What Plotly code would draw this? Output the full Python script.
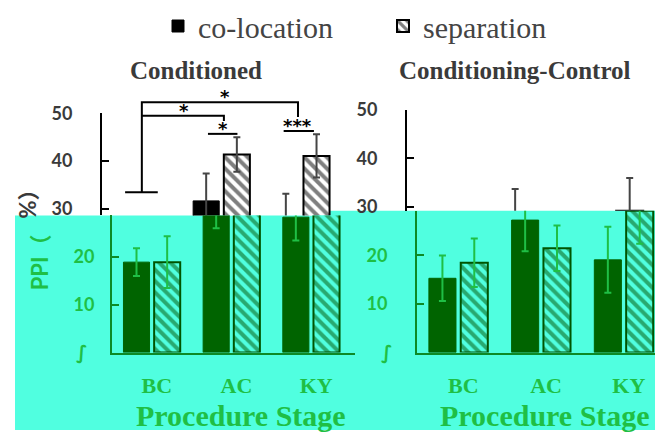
import plotly.graph_objects as go

# ---------------- data ----------------
stages = ["BC", "AC", "KY"]

cond_coloc = [18.9, 31.7, 28.3]
cond_coloc_err = [2.9, 5.7, 4.9]
cond_sep = [18.9, 41.4, 41.1]
cond_sep_err = [5.4, 3.6, 4.5]

ctrl_coloc = [15.3, 27.3, 19.1]
ctrl_coloc_err = [4.7, 6.4, 6.8]
ctrl_sep = [18.5, 21.5, 29.2]
ctrl_sep_err = [5.0, 4.7, 6.8]

y_tickvals = [10, 20, 30, 40, 50]
y_ticktext = ["10", "20", "30", "40", "50"]
axis_break = "∫"  # squiggle drawn where the zero label would sit

# significance brackets on the Conditioned panel, as (stage index, PPI %) points
sig_paths = [
    [(-0.21, 33.5), (0.2, 33.5)],
    [(0.0, 33.5), (0.0, 52.3), (1.96, 52.3), (1.96, 49.2)],
    [(0.0, 49.5), (1.03, 49.5), (1.03, 48.4)],
    [(0.83, 45.7), (1.2, 45.7)],
    [(1.78, 46.3), (2.16, 46.3)],
]
sig_labels = [("*", 1.04, 52.3), ("*", 0.53, 49.5), ("*", 1.02, 45.7), ("***", 1.96, 46.3)]

# ---------------- layout geometry (pixels) ----------------
W, H = 668, 437
SHIFT = 10  # lower band is drawn offset to the right

CYAN = "#50ffe0"
DARK_GREEN = "#006400"
HATCH_GREEN = "#005400"
TEXT_GREEN = "#1fbf45"
LINE_GREEN = "#0d8a26"
GREY_TEXT = "#3a3a3a"

SERIF = "Liberation Serif, Times New Roman, serif"
SANS = "Lato, Noto Sans CJK SC, DejaVu Sans"

# lab_std: tick-label standoff of the lower value axis
panels = {
    "cond": dict(x0=102, x1=345, xmax=2.55, zero=355.5, top=103.5, cut=211, lab_std=12),
    "ctrl": dict(x0=407, x1=645.2, xmax=2.38, zero=355.4, top=100, cut=206, lab_std=24),
}


def px_x(p):
    return p / W


def px_y(p):
    return 1 - p / H


for p in panels.values():
    p["ppu"] = (p["zero"] - p["top"]) / 50.0
    p["ycut"] = (p["zero"] - p["cut"]) / p["ppu"]


def data_to_paper(panel, xv, yv):
    p = panels[panel]
    xpx = p["x0"] + (xv + 0.5) * (p["x1"] - p["x0"]) / (p["xmax"] + 0.5)
    ypx = p["zero"] - yv * p["ppu"]
    return px_x(xpx), px_y(ypx)


fig = go.Figure()


def add_pair(xa, ya, coloc, coloc_err, sep, sep_err, lower, legend):
    fill = DARK_GREEN if lower else "#000000"
    edge = HATCH_GREEN if lower else "#000000"
    bg = CYAN if lower else "#ffffff"
    err_col = TEXT_GREEN if lower else "#454545"
    fig.add_trace(go.Bar(
        x=stages, y=coloc, name="co-location", xaxis=xa, yaxis=ya,
        marker=dict(color=fill, line=dict(color=fill, width=1)),
        error_y=dict(type="data", array=coloc_err, color=err_col, thickness=2, width=3.5),
        showlegend=legend, legendrank=1,
    ))
    fig.add_trace(go.Bar(
        x=stages, y=sep, name="separation", xaxis=xa, yaxis=ya,
        marker=dict(color=bg, line=dict(color=edge, width=2),
                    pattern=dict(shape="\\", fgcolor=edge, bgcolor=bg, size=8, solidity=0.5)),
        error_y=dict(type="data", array=sep_err, color=err_col, thickness=2, width=3.5),
        showlegend=legend, legendrank=2,
    ))


# upper (white) band
add_pair("x", "y", cond_coloc, cond_coloc_err, cond_sep, cond_sep_err, False, True)
add_pair("x2", "y2", ctrl_coloc, ctrl_coloc_err, ctrl_sep, ctrl_sep_err, False, False)
# lower (cyan) band
add_pair("x3", "y3", cond_coloc, cond_coloc_err, cond_sep, cond_sep_err, True, False)
add_pair("x4", "y4", ctrl_coloc, ctrl_coloc_err, ctrl_sep, ctrl_sep_err, True, False)

axes = {}
for key, (xa, ya, xl, yl) in {"cond": ("xaxis", "yaxis", "xaxis3", "yaxis3"),
                             "ctrl": ("xaxis2", "yaxis2", "xaxis4", "yaxis4")}.items():
    p = panels[key]
    xrange = [-0.5, p["xmax"]]
    # upper band
    axes[xa] = dict(domain=[px_x(p["x0"]), px_x(p["x1"])], range=xrange, visible=False,
                    anchor=ya.replace("axis", ""))
    axes[ya] = dict(domain=[px_y(p["cut"]), px_y(p["top"])], range=[p["ycut"], 50],
                    anchor=xa.replace("axis", ""),
                    showline=True, linecolor="#000000", linewidth=2,
                    ticks="inside", ticklen=7, tickwidth=2, tickcolor="#000000",
                    tickvals=y_tickvals, ticktext=y_ticktext, showgrid=False, zeroline=False,
                    tickfont=dict(family=SANS, size=18, color=GREY_TEXT, weight="bold"),
                    ticklabelstandoff=24)
    # lower band
    axes[xl] = dict(domain=[px_x(p["x0"] + SHIFT), px_x(p["x1"] + SHIFT)], range=xrange,
                    anchor=yl.replace("axis", ""),
                    showline=True, linecolor=LINE_GREEN, linewidth=2, ticks="",
                    tickvals=[0, 1, 2], ticktext=stages, showgrid=False, zeroline=False,
                    tickfont=dict(family=SERIF, size=22, color=TEXT_GREEN, weight="bold"),
                    ticklabelshift=5, ticklabelstandoff=12)
    axes[yl] = dict(domain=[px_y(p["zero"]), px_y(p["cut"])], range=[0, p["ycut"]],
                    anchor=xl.replace("axis", ""),
                    showline=True, linecolor=LINE_GREEN, linewidth=2,
                    ticks="inside", ticklen=7, tickwidth=2, tickcolor=LINE_GREEN,
                    tickvals=y_tickvals, ticktext=y_ticktext, showgrid=False, zeroline=False,
                    tickfont=dict(family=SANS, size=18, color=TEXT_GREEN, weight="bold"),
                    ticklabelstandoff=p["lab_std"])

shapes = [
    # cyan band behind the lower part of the figure
    dict(type="rect", xref="paper", yref="paper", layer="below", line=dict(width=0),
         fillcolor=CYAN, x0=px_x(15), x1=px_x(312), y0=0, y1=px_y(211)),
    dict(type="rect", xref="paper", yref="paper", layer="below", line=dict(width=0),
         fillcolor=CYAN, x0=px_x(312), x1=px_x(655), y0=0, y1=px_y(206)),
]
for path in sig_paths:
    pts = [data_to_paper("cond", xv, yv) for xv, yv in path]
    d = "M " + " L ".join(f"{a:.5f},{b:.5f}" for a, b in pts)
    shapes.append(dict(type="path", xref="paper", yref="paper", path=d,
                       line=dict(color="#000000", width=2)))

annotations = []
for text, xv, yv in sig_labels:
    ax_, ay_ = data_to_paper("cond", xv, yv)
    annotations.append(dict(text=text, x=ax_, y=ay_, xref="paper", yref="paper",
                            xanchor="center", yanchor="bottom", showarrow=False, yshift=-7,
                            font=dict(family="DejaVu Sans", size=18, color="#000000", weight="bold")))

# axis-break squiggle at the bottom of each value axis
for key in ("cond", "ctrl"):
    p = panels[key]
    annotations.append(dict(text=axis_break, x=px_x(p["x0"] + SHIFT - 30), y=px_y(p["zero"]),
                            xref="paper", yref="paper", showarrow=False,
                            xanchor="center", yanchor="middle",
                            font=dict(family="DejaVu Sans", size=19, color=TEXT_GREEN, weight="bold")))

# panel titles
annotations.append(dict(text="Conditioned", x=px_x(196), y=px_y(58), xref="paper", yref="paper",
                        showarrow=False, xanchor="center", yanchor="middle",
                        font=dict(family=SERIF, size=25, color=GREY_TEXT, weight="bold")))
annotations.append(dict(text="Conditioning-Control", x=px_x(515), y=px_y(58), xref="paper", yref="paper",
                        showarrow=False, xanchor="center", yanchor="middle",
                        font=dict(family=SERIF, size=25, color=GREY_TEXT, weight="bold")))
# x-axis titles
for cx in (240.5, 545):
    annotations.append(dict(text="Procedure Stage", x=px_x(cx), y=px_y(422), xref="paper", yref="paper",
                            showarrow=False, xanchor="center", yanchor="middle",
                            font=dict(family=SERIF, size=30, color=TEXT_GREEN, weight="bold")))
# y-axis title, split across the two bands
annotations.append(dict(text="PPI（", x=px_x(39), y=px_y(292), xref="paper", yref="paper",
                        showarrow=False, xanchor="center", yanchor="bottom", textangle=-90,
                        font=dict(family=SANS, size=22, color=TEXT_GREEN, weight="bold")))
annotations.append(dict(text="%）", x=px_x(27), y=px_y(170), xref="paper", yref="paper",
                        showarrow=False, xanchor="center", yanchor="top", textangle=-90,
                        font=dict(family=SANS, size=22, color=GREY_TEXT, weight="bold")))

fig.update_layout(
    width=W, height=H,
    margin=dict(l=0, r=0, t=0, b=0),
    paper_bgcolor="#ffffff",
    plot_bgcolor="rgba(0,0,0,0)",
    barmode="group", bargap=0.23, bargroupgap=0.15,
    showlegend=True,
    legend=dict(orientation="h", x=px_x(158), y=1 + 16 / H, xanchor="left", yanchor="top",
                font=dict(family=SERIF, size=30, color="#444444"),
                bgcolor="rgba(0,0,0,0)", itemwidth=30,
                entrywidth=180, entrywidthmode="pixels"),
    shapes=shapes,
    annotations=annotations,
    **axes,
)

fig.write_html("out.html")
